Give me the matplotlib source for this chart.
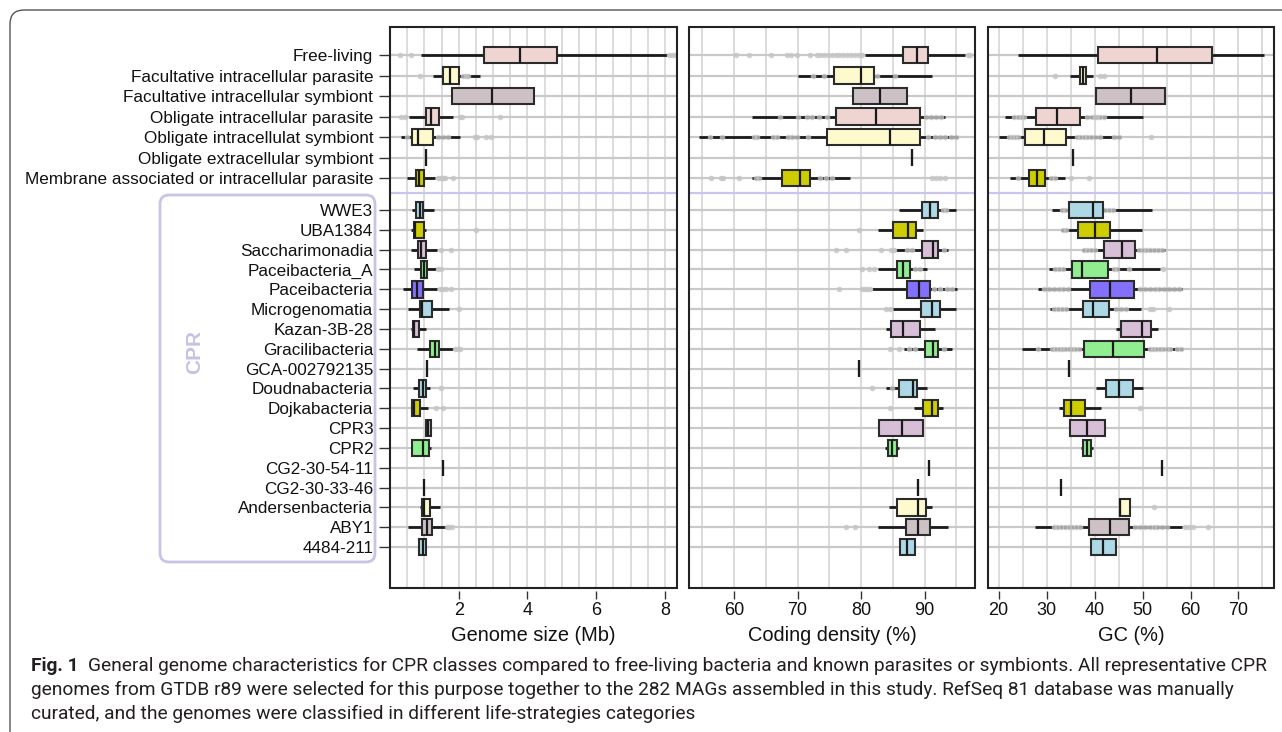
import matplotlib
matplotlib.use("Agg")
import matplotlib.pyplot as plt
from matplotlib.patches import FancyBboxPatch, Rectangle
from matplotlib.transforms import IdentityTransform
from matplotlib.ticker import MultipleLocator

plt.rcParams['font.family'] = ['Liberation Sans', 'DejaVu Sans']

# categories, top to bottom
groups = ["Free-living", "Facultative intracellular parasite", "Facultative intracellular symbiont",
          "Obligate intracellular parasite", "Obligate intracellulat symbiont",
          "Obligate extracellular symbiont", "Membrane associated or intracellular parasite"]
cpr_groups = ["WWE3", "UBA1384", "Saccharimonadia", "Paceibacteria_A", "Paceibacteria",
              "Microgenomatia", "Kazan-3B-28", "Gracilibacteria", "GCA-002792135",
              "Doudnabacteria", "Dojkabacteria", "CPR3", "CPR2", "CG2-30-54-11",
              "CG2-30-33-46", "Andersenbacteria", "ABY1", "4484-211"]
colors = ["#EED5D2", "#FFFACD", "#CDC1C5", "#EED5D2", "#FFFACD", "#CDC1C5", "#CDCD00",
          "#ADD8E6", "#CDCD00", "#D8BFD8", "#90EE90", "#8470FF", "#ADD8E6", "#D8BFD8",
          "#90EE90", "#CDC1C5", "#ADD8E6", "#CDCD00", "#D8BFD8", "#90EE90", "#CDC1C5",
          "#CDC1C5", "#FFFACD", "#CDC1C5", "#ADD8E6"]

# (whisker low, q1, median, q3, whisker high)
genome = [(0.9, 2.74, 3.77, 4.87, 8.06), (1.24, 1.55, 1.75, 2.01, 2.62), (1.81, 1.81, 2.98, 4.18, 4.18),
          (0.56, 1.04, 1.19, 1.43, 1.84), (0.33, 0.63, 0.82, 1.25, 2.04), (1.06, 1.06, 1.06, 1.06, 1.06),
          (0.5, 0.75, 0.83, 0.99, 1.31),
          (0.64, 0.75, 0.86, 0.96, 1.28), (0.62, 0.70, 0.72, 0.98, 1.06), (0.6, 0.82, 0.91, 1.04, 1.37),
          (0.70, 0.90, 0.99, 1.09, 1.34), (0.38, 0.65, 0.80, 0.95, 1.36), (0.53, 0.88, 0.94, 1.23, 1.72),
          (0.62, 0.67, 0.70, 0.85, 1.04), (0.78, 1.15, 1.31, 1.44, 1.84), (1.08, 1.08, 1.08, 1.08, 1.08),
          (0.67, 0.85, 0.95, 1.06, 1.16), (0.60, 0.63, 0.71, 0.88, 1.11), (1.04, 1.04, 1.11, 1.18, 1.18),
          (0.65, 0.65, 0.95, 1.14, 1.2), (1.55, 1.55, 1.55, 1.55, 1.55), (0.99, 0.99, 0.99, 0.99, 0.99),
          (0.87, 0.94, 0.98, 1.15, 1.45), (0.53, 0.93, 1.08, 1.23, 1.62), (0.85, 0.85, 0.95, 1.06, 1.06)]
genome_out = [[0.3, 0.6, 8.12, 8.2, 8.28], [0.87, 2.12, 2.2, 2.27], [], [0.33, 0.45, 2.04, 2.1, 3.19],
              [0.5, 1.4, 1.55, 1.7, 2.46, 2.52, 2.78, 2.95], [], [1.4, 1.48, 1.55, 1.6, 1.84],
              [], [2.5], [1.48, 1.77], [1.41, 1.48], [1.46, 1.55, 1.62, 1.77], [2.0], [],
              [1.9, 1.97, 2.05], [], [1.48], [1.35, 1.55], [], [], [], [], [], [1.66, 1.72, 1.8], []]

coding = [(80.7, 86.56, 88.77, 90.5, 96.4), (70.1, 75.8, 80.0, 82.05, 91.1), (78.8, 78.8, 83.0, 87.3, 87.3),
          (62.9, 76.0, 82.3, 89.3, 93.2), (54.5, 74.6, 84.6, 89.3, 95.3), (88.0, 88.0, 88.0, 88.0, 88.0),
          (62.8, 67.6, 70.4, 72.0, 78.3),
          (85.9, 89.55, 90.8, 92.2, 94.9), (82.6, 85.1, 87.45, 88.6, 89.7), (85.5, 89.55, 91.4, 92.15, 93.75),
          (82.7, 85.6, 86.6, 87.7, 90.4), (81.8, 87.3, 89.2, 90.9, 95.07), (85.1, 89.4, 91.2, 92.5, 94.9),
          (84.0, 84.7, 86.6, 89.3, 91.65), (86.7, 90.0, 91.4, 92.2, 94.4), (79.7, 79.7, 79.7, 79.7, 79.7),
          (84.0, 86.0, 88.2, 88.8, 90.4), (88.35, 89.8, 91.2, 92.2, 92.9), (82.8, 82.8, 86.4, 89.8, 89.8),
          (83.8, 84.2, 84.8, 85.7, 86.0), (90.7, 90.7, 90.7, 90.7, 90.7), (88.9, 88.9, 88.9, 88.9, 88.9),
          (84.4, 85.6, 89.0, 90.3, 91.2), (82.7, 87.1, 89.0, 90.8, 93.75), (86.1, 86.1, 87.3, 88.45, 88.45)]
coding_out = [[60.3, 62.4, 65.8, 68.3, 69.0, 69.9, 71.9, 73.0, 73.6, 74.2, 74.8, 75.4, 76.0, 76.6,
               77.2, 77.8, 78.4, 79.0, 79.6, 80.2, 96.8, 97.2],
              [72.5, 74.2, 82.5, 85.3], [],
              [67.2, 70.1, 71.5, 72.3, 73.4, 74.7, 90.2, 91.0, 91.8, 92.6],
              [56.2, 58.1, 63.1, 63.6, 66.2, 66.8, 68.5, 69.2, 69.9, 71.6, 90.6, 91.6, 92.4, 93.2, 94.2, 95.0],
              [], [56.3, 57.9, 58.3, 60.8, 63.5, 64.0, 73.5, 74.5, 75.5, 91.1, 91.8, 92.5, 93.2],
              [92.9, 93.4], [79.7], [76.0, 77.7, 83.1, 84.7, 85.2, 87.2, 88.0, 93.0],
              [80.1, 81.2, 82.1, 88.5, 89.3], [76.5, 80.2, 80.6, 81.0, 81.4, 91.5, 92.5, 93.5, 94.4],
              [84.0, 84.5], [], [84.5, 86.0, 87.5, 88.5, 93.0], [], [81.8, 84.9], [84.5], [], [], [], [],
              [], [77.7, 79.0], []]

gc = [(24.0, 40.8, 53.0, 64.4, 75.4), (34.9, 36.9, 37.6, 38.3, 39.6), (40.35, 40.35, 47.6, 54.6, 54.6),
      (21.4, 27.7, 32.15, 36.9, 50.0), (20.0, 25.6, 29.4, 34.0, 45.5), (35.6, 35.6, 35.6, 35.6, 35.6),
      (22.3, 26.25, 28.0, 29.65, 33.9),
      (31.1, 34.6, 39.6, 41.7, 51.9), (33.06, 36.5, 40.2, 43.3, 49.9), (37.4, 41.95, 45.7, 48.5, 54.7),
      (30.6, 35.4, 37.4, 42.9, 53.7), (28.3, 39.0, 43.2, 48.3, 58.3), (30.8, 37.5, 39.6, 43.0, 49.7),
      (44.5, 45.5, 49.8, 51.7, 53.3), (24.9, 37.9, 43.9, 50.35, 58.5), (34.6, 34.6, 34.6, 34.6, 34.6),
      (40.35, 42.4, 45.2, 48.0, 50.1), (32.6, 33.6, 35.1, 38.0, 41.3), (34.9, 34.9, 38.5, 42.2, 42.2),
      (37.2, 37.6, 38.4, 39.2, 39.7), (54.0, 54.0, 54.0, 54.0, 54.0), (33.1, 33.1, 33.1, 33.1, 33.1),
      (45.35, 45.35, 45.35, 47.3, 47.3), (27.6, 38.8, 43.2, 47.15, 58.2), (39.2, 39.2, 41.7, 44.4, 44.4)]
gc_out = [[], [31.8, 41.2, 41.9], [],
          [23.3, 24.0, 24.7, 25.4, 38.5, 39.4, 40.0, 40.6, 41.2, 41.9],
          [22.1, 22.8, 23.5, 24.0, 36.3, 37.0, 37.8, 38.5, 39.2, 40.0, 41.2, 44.0, 45.0, 51.8],
          [], [24.0, 31.0, 31.8, 35.1, 38.75],
          [33.3, 33.9, 42.2, 43.0, 43.9], [33.5, 34.0],
          [37.8, 38.5, 39.2, 40.0, 49.2, 50.0, 50.8, 51.6, 52.4, 53.2, 54.0],
          [31.8, 32.6, 33.5, 44.0, 44.7, 47.1, 54.3],
          [29.5, 30.5, 31.5, 32.5, 33.5, 34.5, 49.5, 50.5, 51.5, 52.5, 53.5, 54.5, 55.5, 56.5, 57.5],
          [31.5, 32.3, 33.2, 34.0, 44.5, 45.5, 46.5, 51.6, 52.2, 55.6], [],
          [28.2, 31.1, 31.8, 32.5, 33.2, 33.9, 34.6, 35.3, 36.0, 36.7, 51.5, 52.2, 52.9, 53.6, 54.3,
           55.0, 55.7, 57.2, 58.0],
          [], [], [49.5], [], [], [], [], [52.3],
          [31.5, 32.2, 33.0, 33.8, 34.6, 35.4, 36.2, 37.0, 48.5, 49.5, 50.5, 51.5, 52.3, 53.0, 54.0,
           55.0, 58.9, 59.6, 60.5, 63.7], []]

caption = ["General genome characteristics for CPR classes compared to free-living bacteria and known "
           "parasites or symbionts. All representative CPR",
           "genomes from GTDB r89 were selected for this purpose together to the 282 MAGs assembled in "
           "this study. RefSeq 81 database was manually",
           "curated, and the genomes were classified in different life-strategies categories"]

W, H = 1282, 732
fig = plt.figure(figsize=(W / 100, H / 100), dpi=100)
fig.patch.set_facecolor("white")

labels = groups + cpr_groups
n_top = len(groups)
pos = list(range(n_top)) + [n_top + 0.56 + 0.967 * i for i in range(len(cpr_groups))]
divider = n_top - 0.27


def rect(x0, x1, y0=27, y1=588):
    return [x0 / W, 1 - y1 / H, (x1 - x0) / W, (y1 - y0) / H]


def panel(r, stats, outl, xlim, ticks, step, xlabel, first):
    ax = fig.add_axes(r)
    recs = []
    for s, o, lab in zip(stats, outl, labels):
        recs.append(dict(whislo=s[0], q1=s[1], med=s[2], q3=s[3], whishi=s[4], fliers=o, label=lab))
    bp = ax.bxp(recs, positions=pos, widths=0.8, orientation='horizontal', patch_artist=True,
                showcaps=False, showfliers=True,
                boxprops=dict(edgecolor="#2b2b2b", linewidth=1.5),
                whiskerprops=dict(color="#1a1a1a", linewidth=2.0, solid_capstyle='butt'),
                medianprops=dict(color="#1a1a1a", linewidth=1.6),
                flierprops=dict(marker='o', markersize=4, markerfacecolor="#c4c4c4",
                                markeredgecolor='none', alpha=0.8))
    for b, c in zip(bp['boxes'], colors):
        b.set_facecolor(c)
        b.set_zorder(3)
    for m in bp['medians']:
        m.set_zorder(4)
    ax.set_xlim(*xlim)
    ax.set_ylim(26.0, -1.37)
    ax.set_yticks(pos)
    ax.set_xticks(ticks)
    ax.xaxis.set_minor_locator(MultipleLocator(step))
    ax.set_axisbelow(True)
    ax.grid(True, which='both', axis='x', color="#dcdcdc", linewidth=1.4)
    ax.grid(True, which='major', axis='y', color="#c9c9c9", linewidth=1.6)
    ax.axhline(divider, color="#c8c6ee", linewidth=1.6, zorder=1)
    for sp in ax.spines.values():
        sp.set_visible(False)
    ax.spines['bottom'].set_position(('outward', 2))
    ax.add_patch(Rectangle((0, 0), 1, 1, transform=ax.transAxes, fill=False,
                           edgecolor="#222222", linewidth=1.5, clip_on=False, zorder=6))
    ax.tick_params(axis='x', which='major', length=6, width=1, color="#333333", pad=2,
                   labelsize=13, labelcolor="#111111")
    ax.tick_params(axis='x', which='minor', length=0)
    if first:
        ax.set_yticklabels(labels, fontsize=12.3)
        ax.tick_params(axis='y', length=8, width=1, color="#333333", pad=4, labelcolor="#111111")
    else:
        ax.tick_params(axis='y', left=False, labelleft=False)
    ax.set_xlabel(xlabel, fontsize=14.4, labelpad=5, color="#111111")
    return ax


panel(rect(390, 677), genome, genome_out, (0.0, 8.35), [2, 4, 6, 8], 0.5, "Genome size (Mb)", True)
panel(rect(689, 975), coding, coding_out, (52.9, 97.95), [60, 70, 80, 90], 5, "Coding density (%)", False)
panel(rect(988, 1274), gc, gc_out, (17.8, 77.4), [20, 30, 40, 50, 60, 70], 5, "GC (%)", False)

# outer frame and CPR bracket (pixel coordinates)
fig.patches.append(FancyBboxPatch((10, -60), 1400, H - 10 + 60,
                                  boxstyle="round,pad=0,rounding_size=14", transform=IdentityTransform(),
                                  fill=False, edgecolor="#555555", linewidth=1.0))
fig.patches.append(FancyBboxPatch((160, H - 562), 215, 367,
                                  boxstyle="round,pad=0,rounding_size=9", transform=IdentityTransform(),
                                  fill=False, edgecolor="#c9c3e6", linewidth=2.0))
fig.text(195 / W, 1 - 352 / H, "CPR", rotation=90, ha='center', va='center', fontsize=15,
         fontweight='bold', color="#c7c1e4")

# caption
cap_font = ['Roboto', 'DejaVu Sans']
renderer = fig.canvas.get_renderer()
t0 = fig.text(31 / W, 1 - 666 / H, "Fig. 1", fontsize=12, fontweight='bold', family=cap_font,
              color="#231f20", va='center', ha='left')
bb = t0.get_window_extent(renderer)
t1 = fig.text((bb.x1 + 9) / W, 1 - 666 / H, caption[0], fontsize=12, family=cap_font,
              color="#231f20", va='center', ha='left')
w1 = t1.get_window_extent(renderer).width
scale = (1262 - bb.x1 - 9) / w1
t1.set_fontsize(12 * scale)
t0.set_fontsize(12 * scale)
bb = t0.get_window_extent(renderer)
t1.set_x((bb.x1 + 9) / W)
fig.text(31 / W, 1 - 690 / H, caption[1], fontsize=12 * scale, family=cap_font, color="#231f20",
         va='center', ha='left')
fig.text(31 / W, 1 - 714 / H, caption[2], fontsize=12 * scale, family=cap_font, color="#231f20",
         va='center', ha='left')

fig.savefig("out.png", dpi=100)
